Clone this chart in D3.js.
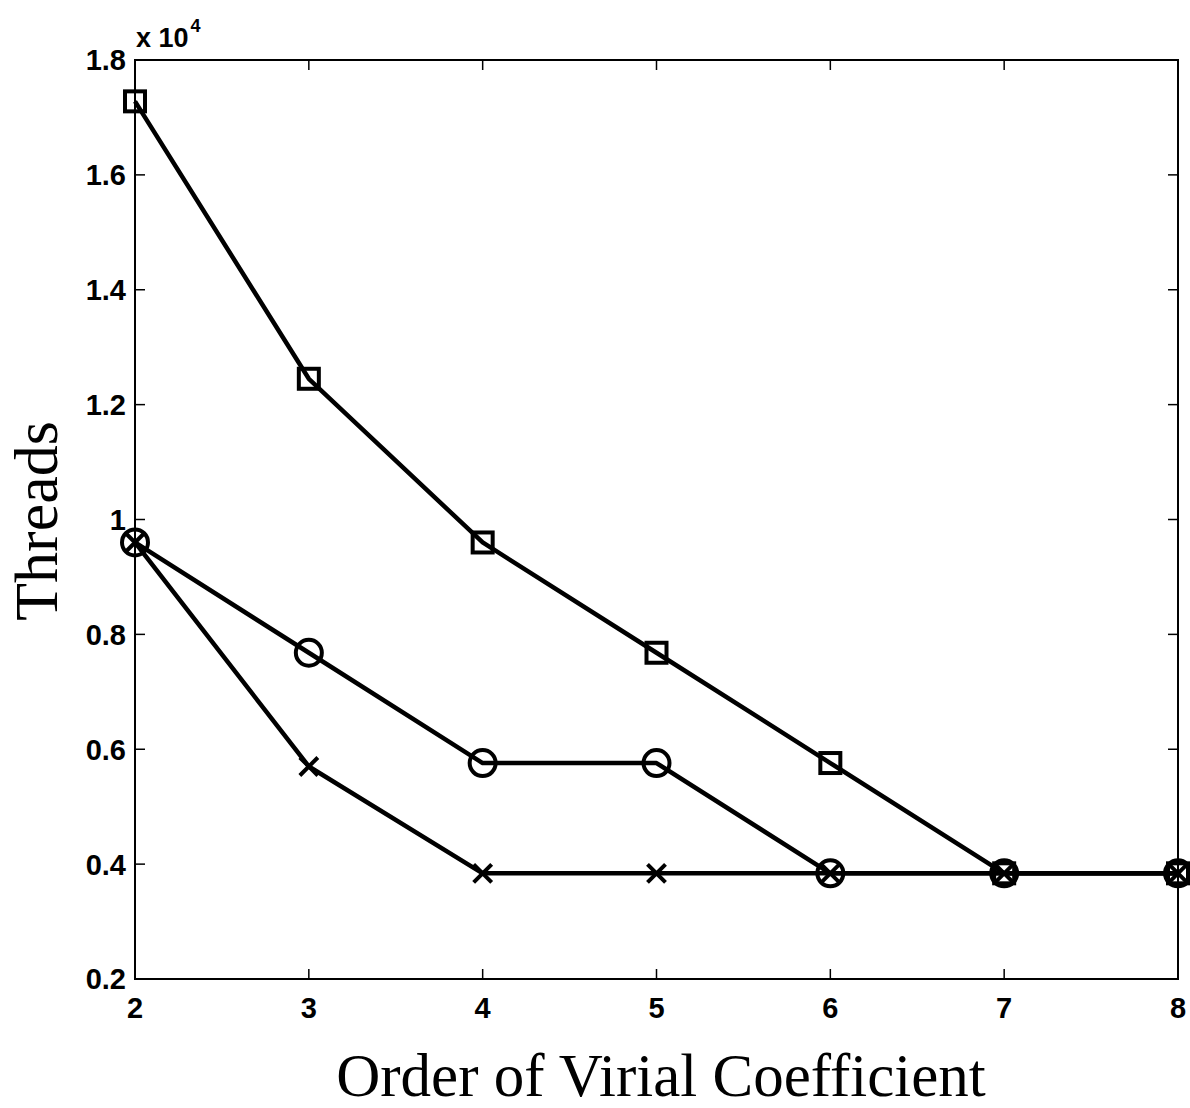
<!DOCTYPE html>
<html><head><meta charset="utf-8">
<script src="https://cdn.jsdelivr.net/npm/d3@7"></script>
<style>body{margin:0;background:#fff}svg{display:block}</style>
</head><body>
<svg id="c" width="1190" height="1108"></svg>
<script>
const orders = [2, 3, 4, 5, 6, 7, 8];
const squareSeries = [17280, 12450, 9600, 7680, 5760, 3840, 3840];
const circleSeries = [9600, 7680, 5760, 5760, 3840, 3840, 3840];
const crossSeries  = [9600, 5700, 3840, 3840, 3840, 3840, 3840];
const yTicks = [0.2, 0.4, 0.6, 0.8, 1, 1.2, 1.4, 1.6, 1.8];
const xTicks = [2, 3, 4, 5, 6, 7, 8];

const svg = d3.select('#c');
const L = 135, R = 1178, T = 60, B = 979;
const x = d3.scaleLinear().domain([2, 8]).range([L, R]);
const y = d3.scaleLinear().domain([2000, 18000]).range([B, T]);

const g = svg.append('g');
g.append('rect').attr('x', L).attr('y', T).attr('width', R - L).attr('height', B - T)
  .attr('fill', 'none').attr('stroke', '#000').attr('stroke-width', 2);

const tickLen = 10;
yTicks.forEach(v => {
  const yy = y(v * 1e4);
  g.append('line').attr('x1', L).attr('x2', L + tickLen).attr('y1', yy).attr('y2', yy).attr('stroke', '#000').attr('stroke-width', 1.5);
  g.append('line').attr('x1', R).attr('x2', R - tickLen).attr('y1', yy).attr('y2', yy).attr('stroke', '#000').attr('stroke-width', 1.5);
  g.append('text').attr('x', L - 9).attr('y', yy).attr('dy', '0.36em').attr('text-anchor', 'end')
    .attr('font-family', 'Liberation Sans, Arial, sans-serif').attr('font-weight', 'bold').attr('font-size', 29)
    .text(String(v));
});
xTicks.forEach(v => {
  const xx = x(v);
  g.append('line').attr('x1', xx).attr('x2', xx).attr('y1', B).attr('y2', B - tickLen).attr('stroke', '#000').attr('stroke-width', 1.5);
  g.append('line').attr('x1', xx).attr('x2', xx).attr('y1', T).attr('y2', T + tickLen).attr('stroke', '#000').attr('stroke-width', 1.5);
  g.append('text').attr('x', xx).attr('y', 1018).attr('text-anchor', 'middle')
    .attr('font-family', 'Liberation Sans, Arial, sans-serif').attr('font-weight', 'bold').attr('font-size', 29)
    .text(String(v));
});

const ex = g.append('text').attr('x', 136).attr('y', 47)
  .attr('font-family', 'Liberation Sans, Arial, sans-serif').attr('font-weight', 'bold').attr('font-size', 27);
ex.append('tspan').text('x 10');
ex.append('tspan').attr('font-size', 18).attr('dy', -15).attr('dx', 2).text('4');

g.append('text').attr('x', 661).attr('y', 1096).attr('text-anchor', 'middle')
  .attr('font-family', 'Liberation Serif, Times New Roman, serif').attr('font-size', 61)
  .text('Order of Virial Coefficient');
g.append('text').attr('transform', 'translate(57,521) rotate(-90)').attr('text-anchor', 'middle')
  .attr('font-family', 'Liberation Serif, Times New Roman, serif').attr('font-size', 62)
  .text('Threads');

const line = d3.line().x((d, i) => x(orders[i])).y(d => y(d));
const series = [
  {vals: squareSeries, m: 'square'},
  {vals: circleSeries, m: 'circle'},
  {vals: crossSeries, m: 'cross'}
];
series.forEach(s => {
  g.append('path').attr('d', line(s.vals)).attr('fill', 'none').attr('stroke', '#000').attr('stroke-width', 4.5).attr('stroke-linejoin', 'round');
});
series.forEach(s => {
  s.vals.forEach((v, i) => {
    const cx = x(orders[i]), cy = y(v);
    if (s.m === 'square') {
      g.append('rect').attr('x', cx - 10).attr('y', cy - 10).attr('width', 20).attr('height', 20)
        .attr('fill', 'none').attr('stroke', '#000').attr('stroke-width', 4);
    } else if (s.m === 'circle') {
      g.append('circle').attr('cx', cx).attr('cy', cy).attr('r', 13)
        .attr('fill', 'none').attr('stroke', '#000').attr('stroke-width', 4);
    } else {
      const h = 9;
      g.append('path').attr('d', `M${cx - h},${cy - h}L${cx + h},${cy + h}M${cx - h},${cy + h}L${cx + h},${cy - h}`)
        .attr('stroke', '#000').attr('stroke-width', 4);
    }
  });
});
</script>
</body></html>
